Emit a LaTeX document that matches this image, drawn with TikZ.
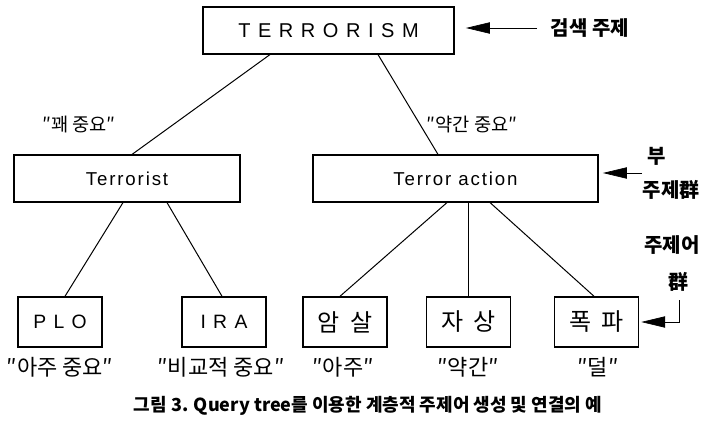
\documentclass[tikz,border=0pt]{standalone}
\usepackage{fontspec}
\setmainfont{Noto Sans CJK KR}
\newfontfamily\latinfont[LetterSpace=10]{Liberation Sans}
\usepackage{tikz}
\usetikzlibrary{positioning,arrows.meta,calc}

\begin{document}
\begin{tikzpicture}[x=0.75pt, y=-0.75pt,
    every node/.style={font=\fontsize{14}{16}\selectfont},
    topic/.style={draw, line width=1.1pt, inner sep=0pt, minimum height=35pt, align=center},
    leaf/.style={topic, minimum width=63pt, minimum height=37.5pt},
    eng/.style={font=\latinfont\fontsize{14.5}{16}\selectfont},
    kor/.style={font=\fontsize{18}{20}\selectfont},
    weight/.style={font=\fontsize{16.5}{18}\selectfont},
    note/.style={font=\bfseries\fontsize{15}{17}\selectfont, inner sep=0pt},
    link/.style={line width=0.75pt},
    pointer/.style={-{Triangle[length=18pt, width=8.5pt]}, line width=0.5pt},
]
\useasboundingbox (0,0) rectangle (702,424);

\node[topic, eng, minimum width=188pt, font=\latinfont\fontsize{15}{17}\selectfont] (root) at (328.5,30.5) {T E R R O R I S M};
\node[topic, minimum width=169.5pt, font=\latinfont\fontsize{14}{16}\selectfont] (terrorist) at (127,178.5) {Terrorist};
\node[topic, minimum width=214pt, font=\latinfont\fontsize{14}{16}\selectfont] (action) at (455.5,178.5) {Terror action};

\node[leaf, eng] (plo) at (60,322) {P L O};
\node[leaf, eng] (ira) at (224,322) {I R A};
\node[leaf, kor] (murder) at (345,322) {암\hspace{0.45em}살};
\node[leaf, kor] (stab) at (468.5,322) {자\hspace{0.45em}상};
\node[leaf, kor] (bomb) at (596.5,322) {폭\hspace{0.45em}파};

% importance
\node (w-terrorist) at (79,125) {″꽤 중요″};
\node (w-action) at (472,125) {″약간 중요″};
\node[weight] (w-plo) at (60,367) {″아주 중요″};
\node[weight] (w-ira) at (221,367) {″비교적 중요″};
\node[weight] (w-murder) at (343,367) {″아주″};
\node[weight] (w-stab) at (468,367) {″약간″};
\node[weight] (w-bomb) at (598,367) {″덜″};

\draw[link] ($(root.south)+(-58.5,0)$) -- ($(terrorist.north)+(5,0)$);
\draw[link] ($(root.south)+(49.5,0)$) -- ($(action.north)+(-17.5,0)$);
\draw[link] ($(terrorist.south)+(-4,0)$) -- ($(plo.north)+(5,0)$);
\draw[link] ($(terrorist.south)+(40,0)$) -- ($(ira.north)+(-2,0)$);
\draw[link] ($(action.south)+(-8.5,0)$) -- ($(murder.north)+(-5,0)$);
\draw[link] ($(action.south)+(13,0)$) -- (stab.north);
\draw[link] ($(action.south)+(34.5,0)$) -- ($(bomb.north)+(-2.5,0)$);

% side notes
\node[note] (search) at (590,28) {검색 주제};
\node[note, anchor=east] (sub2) at (700,190) {주제群};
\node[note, anchor=west] (sub1) at (647,156) {부};
\node[note, anchor=east] (kw1) at (700,245) {주제어};
\node[note] (kw2) at (678,282) {群};

\coordinate (p1) at (537,28);
\coordinate (p2) at (642,173);
\coordinate (p3) at (679,300);
\draw[pointer, shorten >=8.5pt] (p1) -- (p1 -| root.east);
\draw[pointer, shorten >=3pt] (p2) -- (p2 -| action.east);
\draw[pointer, shorten >=1.5pt] (p3) |- (bomb.east);

\node[font=\bfseries\fontsize{13.5}{15}\selectfont] (caption) at (368,406) {그림 3. Query tree를 이용한 계층적 주제어 생성 및 연결의 예};
\end{tikzpicture}
\end{document}
